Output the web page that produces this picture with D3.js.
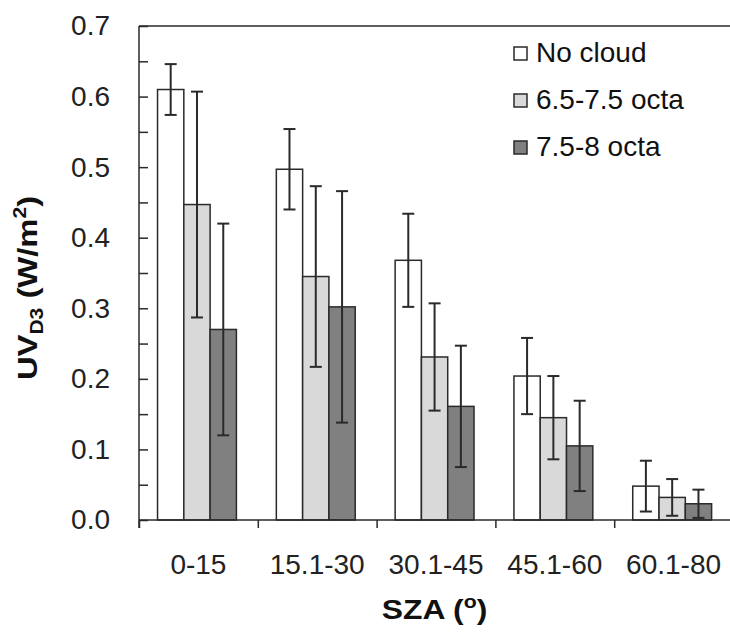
<!DOCTYPE html>
<html>
<head>
<meta charset="utf-8">
<script src="https://cdn.jsdelivr.net/npm/d3@7"></script>
<style>
  body { margin: 0; background: #fff; }
  svg { display: block; font-family: "Liberation Sans", Arial, sans-serif; }
</style>
</head>
<body>
<svg id="chart" width="730" height="641"></svg>
<script>
const categories = ['0-15', '15.1-30', '30.1-45', '45.1-60', '60.1-80']
const seriesNames = ['No cloud', '6.5-7.5 octa', '7.5-8 octa']
const noCloud = [0.610, 0.497, 0.368, 0.204, 0.048]
const noCloudErr = [0.036, 0.057, 0.066, 0.054, 0.036]
const partCloud = [0.447, 0.345, 0.231, 0.145, 0.032]
const partCloudErr = [0.160, 0.128, 0.076, 0.059, 0.026]
const overcast = [0.270, 0.302, 0.161, 0.105, 0.023]
const overcastErr = [0.150, 0.164, 0.086, 0.064, 0.020]
const yTicks = [0, 0.05, 0.1, 0.15, 0.2, 0.25, 0.3, 0.35, 0.4, 0.45, 0.5, 0.55, 0.6, 0.65, 0.7]

const values = [noCloud, partCloud, overcast]
const errors = [noCloudErr, partCloudErr, overcastErr]
const fills = ['#ffffff', '#d9d9d9', '#808080']
const ink = '#2a2a2a'

const plotLeft = 139, plotRight = 733, plotTop = 26, plotBottom = 520

const svg = d3.select('#chart')

const x = d3.scaleBand().domain(categories).range([plotLeft, plotRight])
const xInner = d3.scaleBand().domain(seriesNames)
  .range([x.bandwidth() * 0.156, x.bandwidth() * 0.82])
const xEdges = d3.scaleLinear().domain([0, categories.length]).range([plotLeft, plotRight])
const y = d3.scaleLinear().domain([0, 0.7]).range([plotBottom, plotTop])

// frame top line
svg.append('line')
  .attr('x1', plotLeft).attr('x2', 730)
  .attr('y1', plotTop).attr('y2', plotTop)
  .attr('stroke', ink).attr('stroke-width', 1.5)

// bars
const rows = []
categories.forEach((c, i) => {
  seriesNames.forEach((s, j) => {
    rows.push({ cat: c, name: s, v: values[j][i], e: errors[j][i], fill: fills[j] })
  })
})

svg.append('g').selectAll('rect')
  .data(rows)
  .enter()
  .append('rect')
  .attr('x', d => x(d.cat) + xInner(d.name))
  .attr('y', d => y(d.v))
  .attr('width', xInner.bandwidth())
  .attr('height', d => y(0) - y(d.v))
  .attr('fill', d => d.fill)
  .attr('stroke', ink)
  .attr('stroke-width', 1.5)

// error bars
const err = svg.append('g').attr('stroke', ink).attr('stroke-width', 2)
rows.forEach(d => {
  const cx = x(d.cat) + xInner(d.name) + xInner.bandwidth() / 2
  const y1 = y(d.v + d.e), y2 = y(Math.max(0, d.v - d.e))
  err.append('line').attr('x1', cx).attr('x2', cx).attr('y1', y1).attr('y2', y2)
  err.append('line').attr('x1', cx - 6).attr('x2', cx + 6).attr('y1', y1).attr('y2', y1)
  err.append('line').attr('x1', cx - 6).attr('x2', cx + 6).attr('y1', y2).attr('y2', y2)
})

// y axis
const yAxis = d3.axisLeft(y)
  .tickValues(yTicks)
  .tickSize(-9)
  .tickPadding(29)
  .tickFormat(d => Math.round(d * 100) % 10 === 0 ? d3.format('.1f')(d) : '')

const gy = svg.append('g')
  .attr('transform', `translate(${plotLeft},0)`)
  .call(yAxis)
gy.select('.domain').remove()
gy.selectAll('.tick line').attr('stroke', ink).attr('stroke-width', 1.5)
gy.selectAll('.tick text')
  .attr('fill', '#222')
  .style('font-size', '28px')

svg.append('line')
  .attr('x1', plotLeft).attr('x2', plotLeft)
  .attr('y1', plotTop).attr('y2', plotBottom + 8)
  .attr('stroke', ink).attr('stroke-width', 1.5)

// x axis: labels
const gx = svg.append('g')
  .attr('transform', `translate(0,${plotBottom})`)
  .call(d3.axisBottom(x).tickSize(0).tickPadding(34))
gx.select('.domain').remove()
gx.selectAll('.tick text')
  .attr('fill', '#222')
  .style('font-size', '28px')

// x axis: category boundary ticks
const gxe = svg.append('g')
  .attr('transform', `translate(0,${plotBottom})`)
  .call(d3.axisBottom(xEdges).ticks(categories.length).tickSize(8).tickFormat(''))
gxe.select('.domain').remove()
gxe.selectAll('.tick line').attr('stroke', ink).attr('stroke-width', 1.5)

svg.append('line')
  .attr('x1', plotLeft).attr('x2', 730)
  .attr('y1', plotBottom).attr('y2', plotBottom)
  .attr('stroke', ink).attr('stroke-width', 1.5)

// axis titles (source text is a little stretched, hence the scale)
const yt = svg.append('text')
  .attr('transform', `translate(37,288) rotate(-90) scale(1.17,1)`)
  .attr('text-anchor', 'middle')
  .style('font-size', '28px')
  .style('font-weight', 'bold')
  .attr('fill', '#111')
yt.append('tspan').text('UV')
yt.append('tspan').text('D3').style('font-size', '18px').attr('dy', 6)
yt.append('tspan').text(' (W/m').attr('dy', -6)
yt.append('tspan').text('2').style('font-size', '18px').attr('dy', -11)
yt.append('tspan').text(')').attr('dy', 11)

const xt = svg.append('text')
  .attr('transform', `translate(${(plotLeft + 730) / 2},619) scale(1.18,1)`)
  .attr('text-anchor', 'middle')
  .style('font-size', '27px')
  .style('font-weight', 'bold')
  .attr('fill', '#111')
xt.append('tspan').text('SZA  (')
xt.append('tspan').text('o').style('font-size', '18px').attr('dy', -11)
xt.append('tspan').text(')').attr('dy', 11)

// legend
const legend = svg.append('g')
  .selectAll('g')
  .data(seriesNames)
  .enter()
  .append('g')
  .attr('transform', (d, i) => `translate(514,${53 + i * 47})`)

legend.append('rect')
  .attr('x', 0).attr('y', -6)
  .attr('width', 13).attr('height', 13)
  .attr('fill', (d, i) => fills[i])
  .attr('stroke', ink)
  .attr('stroke-width', 1.5)

legend.append('text')
  .attr('x', 22)
  .attr('y', 9)
  .text(d => d)
  .attr('fill', '#111')
  .style('font-size', '28px')
</script>
</body>
</html>
